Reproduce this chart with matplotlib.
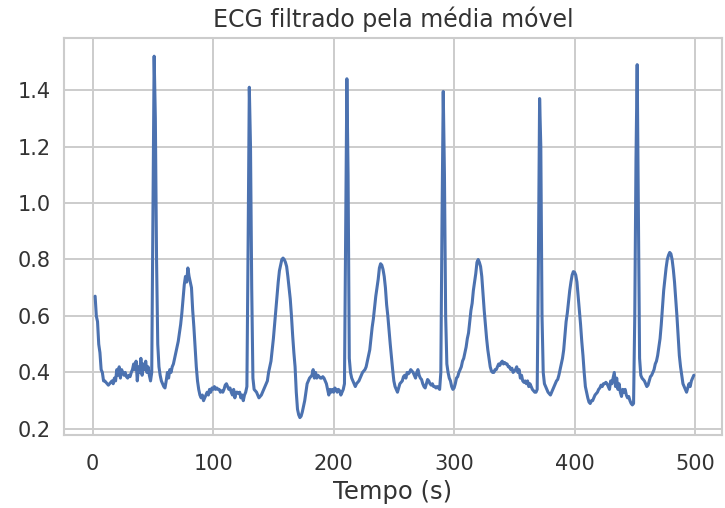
import matplotlib
matplotlib.use("Agg")
import matplotlib.pyplot as plt
import seaborn as sns

# valores (tempo em s, amplitude do ECG filtrado)
tempo = [2, 3, 4, 5, 6, 7, 8, 9, 10, 12, 13, 14, 15, 16, 17, 18, 19, 20,
         21, 22, 23, 24, 25, 26, 27, 28, 29, 30, 31, 32, 33, 34, 35, 36, 37,
         38, 39, 40, 41, 42, 43, 44, 45, 46, 47, 48, 49,
         50, 51, 52, 53, 54, 55, 56, 57, 58, 59, 60, 61, 62, 63, 64, 65, 66,
         67, 68, 69, 70, 71, 72, 73, 74, 75, 76, 77, 78, 79, 80, 81, 82, 83,
         84, 85, 86, 87, 88, 89, 90, 91, 92, 93, 94, 95, 96, 97, 98, 99, 100,
         101, 102, 103, 104, 105, 106, 107, 108, 109, 110, 111, 112, 113, 114,
         115, 116, 117, 118, 119, 120, 121, 122, 123, 124, 125, 126, 127,
         128, 129, 130, 131, 132, 133, 134, 135, 136, 137, 138, 139, 140, 141,
         142, 143, 144, 145, 146, 147, 148, 149, 150, 151, 152, 153, 154, 155,
         156, 157, 158, 159, 160, 161, 162, 163, 164, 165, 166, 167, 168, 169,
         170, 171, 172, 173, 174, 175, 176, 177, 178, 179, 180, 181, 182, 183,
         184, 185, 186, 187, 188, 189, 190, 191, 192, 193, 194, 195, 196, 197,
         198, 199, 200, 201, 202, 203, 204, 205, 206, 207, 208,
         209, 210, 211, 212, 213, 214, 215, 216, 217, 218, 219, 220, 221, 222,
         223, 224, 225, 226, 227, 228, 229, 230, 231, 232, 233, 234, 235, 236,
         237, 238, 239, 240, 241, 242, 243, 244, 245, 246, 247, 248, 249, 250,
         251, 252, 253, 254, 255, 256, 257, 258, 259, 260, 261, 262, 263, 264,
         265, 266, 267, 268, 269, 270, 271, 272, 273, 274, 275, 276, 277, 278,
         279, 280, 281, 282, 283, 284, 285, 286, 287, 288,
         289, 290, 291, 292, 293, 294, 295, 296, 297, 298, 299, 300, 301, 302,
         303, 304, 305, 306, 307, 308, 309, 310, 311, 312, 313, 314, 315, 316,
         317, 318, 319, 320, 321, 322, 323, 324, 325, 326, 327, 328, 329, 330,
         331, 332, 333, 334, 335, 336, 337, 338, 339, 340, 341, 342, 343, 344,
         345, 346, 347, 348, 349, 350, 351, 352, 353, 354, 355, 356, 357, 358,
         359, 360, 361, 362, 363, 364, 365, 366, 367, 368, 369,
         370, 371, 372, 373, 374, 375, 376, 377, 378, 379, 380, 381, 382, 383,
         384, 385, 386, 387, 388, 389, 390, 391, 392, 393, 394, 395, 396, 397,
         398, 399, 400, 401, 402, 403, 404, 405, 406, 407, 408, 409, 410, 411,
         412, 413, 414, 415, 416, 417, 418, 419, 420, 421, 422, 423, 424, 425,
         426, 427, 428, 429, 430, 431, 432, 433, 434, 435, 436, 437, 438, 439,
         440, 441, 442, 443, 444, 445, 446, 447, 448,
         449, 450, 451, 452, 453, 454, 455, 456, 457, 458, 459, 460, 461, 462,
         463, 464, 465, 466, 467, 468, 469, 470, 471, 472, 473, 474, 475, 476,
         477, 478, 479, 480, 481, 482, 483, 484, 485, 486, 487, 488, 489, 490,
         491, 492, 493, 494, 495, 496, 497, 498, 499]

ecg = [0.67, 0.60, 0.58, 0.50, 0.47, 0.41, 0.40, 0.37, 0.37, 0.36, 0.355, 0.36,
       0.365, 0.37, 0.36, 0.38, 0.37, 0.41, 0.39, 0.42, 0.38, 0.41, 0.40, 0.39,
       0.40, 0.385, 0.38, 0.39, 0.385, 0.40, 0.41, 0.43, 0.41, 0.44, 0.37, 0.42,
       0.40, 0.45, 0.39, 0.43, 0.41, 0.44, 0.40, 0.42, 0.39, 0.37, 0.40,
       0.95, 1.52, 1.30, 0.80, 0.50, 0.42, 0.39, 0.37, 0.36, 0.35, 0.345, 0.37,
       0.40, 0.38, 0.41, 0.40, 0.42, 0.43, 0.45, 0.47, 0.49, 0.51, 0.54, 0.57,
       0.61, 0.66, 0.71, 0.74, 0.72, 0.77, 0.74, 0.72, 0.70, 0.62, 0.56, 0.49,
       0.42, 0.37, 0.34, 0.32, 0.31, 0.32, 0.30, 0.31, 0.32, 0.33, 0.32, 0.34,
       0.33, 0.345, 0.34, 0.35, 0.34, 0.345, 0.34, 0.34, 0.33, 0.335, 0.33,
       0.34, 0.355, 0.36, 0.35, 0.34, 0.345, 0.33, 0.32, 0.34, 0.31, 0.33, 0.33,
       0.325, 0.33, 0.31, 0.32, 0.30, 0.32, 0.33,
       0.35, 0.85, 1.41, 1.20, 0.70, 0.38, 0.34, 0.335, 0.33, 0.32, 0.31, 0.315,
       0.32, 0.33, 0.34, 0.35, 0.36, 0.37, 0.40, 0.42, 0.44, 0.48, 0.52, 0.57,
       0.62, 0.67, 0.72, 0.76, 0.78, 0.80, 0.805, 0.80, 0.79, 0.775, 0.74, 0.70,
       0.66, 0.60, 0.53, 0.47, 0.42, 0.33, 0.27, 0.25, 0.24, 0.245, 0.26, 0.28,
       0.30, 0.33, 0.36, 0.37, 0.38, 0.385, 0.39, 0.41, 0.38, 0.40, 0.38, 0.39,
       0.385, 0.38, 0.38, 0.385, 0.38, 0.37, 0.36, 0.34, 0.32, 0.34, 0.33, 0.34,
       0.33, 0.345, 0.34, 0.33, 0.34, 0.335, 0.32, 0.33, 0.34,
       0.36, 0.90, 1.44, 1.10, 0.45, 0.40, 0.38, 0.37, 0.36, 0.35, 0.36, 0.365,
       0.37, 0.38, 0.39, 0.40, 0.405, 0.41, 0.42, 0.44, 0.46, 0.48, 0.52, 0.56,
       0.59, 0.63, 0.67, 0.70, 0.73, 0.77, 0.785, 0.78, 0.765, 0.74, 0.70, 0.64,
       0.60, 0.55, 0.50, 0.455, 0.41, 0.37, 0.35, 0.34, 0.33, 0.345, 0.36, 0.365,
       0.37, 0.385, 0.39, 0.38, 0.40, 0.395, 0.40, 0.41, 0.405, 0.40, 0.39, 0.38,
       0.40, 0.41, 0.39, 0.38, 0.375, 0.36, 0.35, 0.345, 0.36, 0.375, 0.37, 0.36,
       0.355, 0.36, 0.35, 0.35, 0.345, 0.35, 0.345, 0.34,
       0.40, 0.95, 1.395, 1.10, 0.60, 0.43, 0.40, 0.38, 0.37, 0.35, 0.34, 0.345,
       0.36, 0.38, 0.385, 0.40, 0.41, 0.42, 0.44, 0.45, 0.47, 0.49, 0.52, 0.54,
       0.58, 0.62, 0.645, 0.69, 0.72, 0.75, 0.79, 0.80, 0.79, 0.775, 0.74, 0.68,
       0.62, 0.57, 0.52, 0.48, 0.45, 0.42, 0.405, 0.40, 0.40, 0.41, 0.41, 0.42,
       0.43, 0.425, 0.435, 0.44, 0.43, 0.435, 0.43, 0.43, 0.42, 0.42, 0.41,
       0.415, 0.40, 0.405, 0.41, 0.42, 0.40, 0.41, 0.38, 0.39, 0.37, 0.365, 0.37,
       0.36, 0.37, 0.35, 0.36, 0.35, 0.34, 0.335, 0.33, 0.33, 0.34,
       0.80, 1.37, 1.20, 0.60, 0.40, 0.36, 0.35, 0.34, 0.33, 0.325, 0.32, 0.33,
       0.34, 0.35, 0.36, 0.37, 0.375, 0.39, 0.41, 0.43, 0.45, 0.48, 0.53, 0.58,
       0.61, 0.65, 0.69, 0.72, 0.745, 0.757, 0.755, 0.745, 0.72, 0.67, 0.62,
       0.57, 0.51, 0.46, 0.40, 0.35, 0.33, 0.31, 0.295, 0.29, 0.30, 0.30, 0.31,
       0.32, 0.325, 0.33, 0.34, 0.345, 0.355, 0.35, 0.36, 0.36, 0.365, 0.36,
       0.35, 0.34, 0.37, 0.36, 0.38, 0.40, 0.35, 0.38, 0.34, 0.36, 0.33, 0.315,
       0.34, 0.33, 0.34, 0.32, 0.31, 0.315, 0.30, 0.29, 0.285,
       0.29, 0.60, 1.15, 1.49, 0.95, 0.45, 0.39, 0.38, 0.375, 0.37, 0.36, 0.35,
       0.355, 0.37, 0.385, 0.39, 0.40, 0.41, 0.43, 0.44, 0.46, 0.49, 0.52, 0.57,
       0.63, 0.69, 0.73, 0.77, 0.80, 0.815, 0.825, 0.82, 0.80, 0.765, 0.72, 0.66,
       0.60, 0.53, 0.46, 0.42, 0.39, 0.36, 0.35, 0.34, 0.33, 0.345, 0.36, 0.35,
       0.37, 0.38, 0.39]

sns.set_theme(style="whitegrid")

fig, ax = plt.subplots(figsize=(7.25, 5.08), dpi=100)
fig.subplots_adjust(left=0.088, right=0.996, top=0.925, bottom=0.144)

ax.plot(tempo, ecg, color="#4c72b0", linewidth=2.2)
ax.set_xlim(-24, 522.5)
ax.set_ylim(0.179, 1.584)
ax.set_xticks([0, 100, 200, 300, 400, 500])
ax.set_yticks([0.2, 0.4, 0.6, 0.8, 1.0, 1.2, 1.4])

ax.tick_params(labelsize=15, colors="#333333")
ax.tick_params(axis="x", pad=8)
ax.set_title("ECG filtrado pela média móvel", fontsize=17, color="#333333", pad=8)
ax.set_xlabel("Tempo (s)", fontsize=17.5, color="#333333", labelpad=4)
for s in ax.spines.values():
    s.set_color("#cccccc")
    s.set_linewidth(1.5)
ax.grid(color="#cccccc", linewidth=1.4)

fig.savefig("out.png", dpi=100)
